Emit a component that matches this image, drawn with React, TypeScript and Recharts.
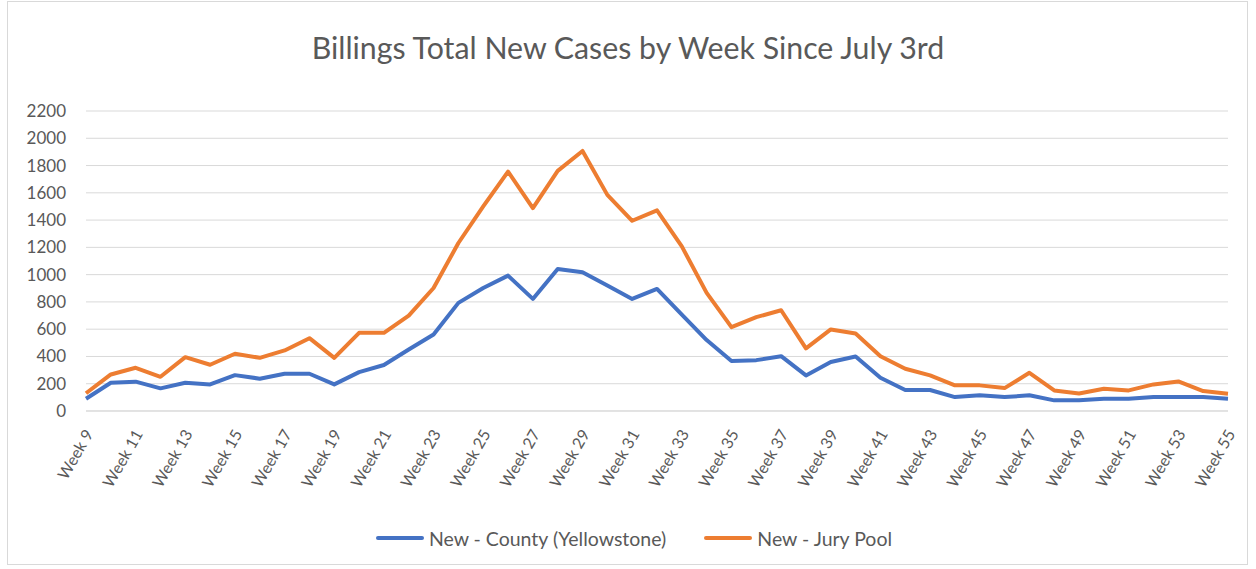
import { CartesianGrid, Legend, Line, LineChart, XAxis, YAxis } from 'recharts';

const weeks = [
  'Week 9', 'Week 10', 'Week 11', 'Week 12', 'Week 13', 'Week 14', 'Week 15', 'Week 16',
  'Week 17', 'Week 18', 'Week 19', 'Week 20', 'Week 21', 'Week 22', 'Week 23', 'Week 24',
  'Week 25', 'Week 26', 'Week 27', 'Week 28', 'Week 29', 'Week 30', 'Week 31', 'Week 32',
  'Week 33', 'Week 34', 'Week 35', 'Week 36', 'Week 37', 'Week 38', 'Week 39', 'Week 40',
  'Week 41', 'Week 42', 'Week 43', 'Week 44', 'Week 45', 'Week 46', 'Week 47', 'Week 48',
  'Week 49', 'Week 50', 'Week 51', 'Week 52', 'Week 53', 'Week 54', 'Week 55',
];

const countyNew = [
  90, 207, 215, 166, 207, 195, 263, 237, 273, 273, 195, 285, 337, 451, 561, 793,
  902, 993, 822, 1041, 1017, 920, 822, 895, 707, 520, 366, 373, 402, 261, 359, 400,
  244, 154, 154, 102, 115, 102, 115, 78, 78, 90, 90, 102, 102, 102, 90,
];

const juryNew = [
  130, 268, 317, 251, 395, 339, 420, 390, 444, 534, 390, 573, 573, 700, 902, 1232,
  1500, 1756, 1488, 1761, 1907, 1585, 1395, 1471, 1207, 866, 615, 688, 739, 459, 598, 568,
  402, 310, 261, 188, 188, 168, 280, 151, 129, 163, 151, 195, 217, 146, 127,
];

const yTicks = [0, 200, 400, 600, 800, 1000, 1200, 1400, 1600, 1800, 2000, 2200];

const data = weeks.map((week, i) => ({ week, county: countyNew[i], jury: juryNew[i] }));

const FONT = 'Lato, "Open Sans", sans-serif';
const TEXT = '#595959';

function WeekTick({ x, y, payload }: any) {
  return (
    <g transform={`translate(${x + 3},${y + 12})`}>
      <text
        textAnchor="end"
        transform="rotate(-60)"
        dy="0.35em"
        fill={TEXT}
        fontSize={16}
        fontFamily={FONT}
      >
        {payload.value}
      </text>
    </g>
  );
}

function LegendRow({ payload }: any) {
  return (
    <div
      style={{
        display: 'flex',
        justifyContent: 'center',
        gap: 38,
        height: 24,
        alignItems: 'center',
        paddingLeft: 40,
      }}
    >
      {(payload || []).map((p: any) => (
        <div key={p.value} style={{ display: 'flex', alignItems: 'center' }}>
          <svg width={48} height={6} style={{ marginRight: 5 }}>
            <line x1={2} y1={3} x2={46} y2={3} stroke={p.color} strokeWidth={4} strokeLinecap="round" />
          </svg>
          <span style={{ color: TEXT, fontSize: 19.5, fontFamily: FONT }}>{p.value}</span>
        </div>
      ))}
    </div>
  );
}

export default function App() {
  return (
    <div style={{ position: 'absolute', left: 0, top: 0, width: 1256, height: 569, background: '#fff' }}>
      <div
        style={{
          position: 'absolute',
          left: 7,
          top: 1,
          width: 1241,
          height: 564,
          border: '1px solid #d9d9d9',
          boxSizing: 'border-box',
        }}
      />
      <div
        style={{
          position: 'absolute',
          left: 0,
          top: 27,
          width: 1256,
          textAlign: 'center',
          fontFamily: FONT,
          fontSize: 30.3,
          color: TEXT,
          lineHeight: '40px',
        }}
      >
        Billings Total New Cases by Week Since July 3rd
      </div>
      <LineChart
        width={1256}
        height={569}
        data={data}
        margin={{ top: 111, right: 28, left: 0, bottom: 19 }}
      >
        <CartesianGrid horizontal vertical={false} stroke="#d9d9d9" />
        <XAxis
          dataKey="week"
          interval={1}
          height={115}
          tickLine={false}
          axisLine={{ stroke: '#d9d9d9' }}
          tick={<WeekTick />}
        />
        <YAxis
          width={86}
          domain={[0, 2200]}
          ticks={yTicks}
          tickLine={false}
          axisLine={false}
          tickMargin={14}
          tick={{ fill: TEXT, fontSize: 17, fontFamily: FONT }}
        />
        <Legend verticalAlign="bottom" content={<LegendRow />} />
        <Line
          type="linear"
          dataKey="county"
          name="New - County (Yellowstone)"
          stroke="#4472c4"
          strokeWidth={4}
          dot={false}
          strokeLinejoin="round"
          isAnimationActive={false}
        />
        <Line
          type="linear"
          dataKey="jury"
          name="New - Jury Pool"
          stroke="#ed7d31"
          strokeWidth={4}
          dot={false}
          strokeLinejoin="round"
          isAnimationActive={false}
        />
      </LineChart>
    </div>
  );
}
